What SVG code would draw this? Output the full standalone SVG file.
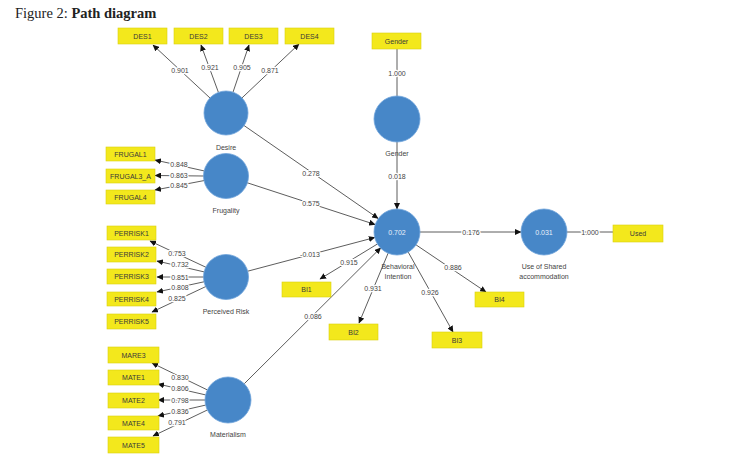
<svg xmlns="http://www.w3.org/2000/svg" width="736" height="458" viewBox="0 0 736 458">
<defs>
<marker id="ah" markerUnits="userSpaceOnUse" markerWidth="7" markerHeight="6" refX="6" refY="3" orient="auto">
<path d="M0,0 L6.5,3 L0,6 Z" fill="#111"/>
</marker>
<style>
.box{fill:#F3E81C;stroke:#D9CF10;stroke-width:0.6}
.bt{font-family:"Liberation Sans",Arial,sans-serif;font-size:7px;fill:#3a3a3a;text-anchor:middle}
.lv{fill:#4787C8;stroke:#6FA3DA;stroke-width:0.8}
.lt{font-family:"Liberation Sans",Arial,sans-serif;font-size:7px;fill:#444;text-anchor:middle}
.in{font-family:"Liberation Sans",Arial,sans-serif;font-size:7px;fill:#E8F0FA;text-anchor:middle}
.c{stroke:#333;stroke-width:0.8;fill:none}
.a{stroke:#333;stroke-width:0.8;fill:none;marker-end:url(#ah)}
.lbl{font-family:"Liberation Sans",Arial,sans-serif;font-size:7px;fill:#444;text-anchor:middle;stroke:#fff;stroke-width:2.5;paint-order:stroke;stroke-linejoin:round}
.title{font-family:"Liberation Serif","Times New Roman",serif;font-size:14.5px;fill:#222}
</style>
</defs>
<rect width="736" height="458" fill="#fff"/>
<text class="title" x="15" y="18">Figure 2: <tspan font-weight="bold">Path diagram</tspan></text>

<g id="connectors">
<line class="a" x1="210" y1="98" x2="153" y2="45"/>
<line class="a" x1="218.4" y1="92.3" x2="201" y2="45"/>
<line class="a" x1="233" y1="92.2" x2="249" y2="45"/>
<line class="a" x1="242" y1="97.9" x2="299" y2="44"/>
<line class="a" x1="204.5" y1="171" x2="155" y2="160"/>
<line class="a" x1="204" y1="176" x2="155" y2="175.5"/>
<line class="a" x1="204.4" y1="180.5" x2="155" y2="190"/>
<line class="a" x1="206.2" y1="267.4" x2="150" y2="241"/>
<line class="a" x1="204.6" y1="272" x2="157" y2="261"/>
<line class="a" x1="204" y1="277" x2="157" y2="277"/>
<line class="a" x1="204.5" y1="281.7" x2="157" y2="292"/>
<line class="a" x1="206.1" y1="286.4" x2="152" y2="312"/>
<line class="a" x1="207.3" y1="389.9" x2="152" y2="363"/>
<line class="a" x1="205.6" y1="394.9" x2="158" y2="384"/>
<line class="a" x1="205" y1="400" x2="158" y2="400"/>
<line class="a" x1="205.6" y1="405.1" x2="158" y2="416"/>
<line class="a" x1="207.3" y1="410" x2="153" y2="436"/>
<line class="a" x1="244" y1="125.5" x2="378.1" y2="218.4"/>
<line class="a" x1="247" y1="182.7" x2="375.1" y2="224.5"/>
<line class="a" x1="247.3" y1="271.3" x2="374.8" y2="237.5"/>
<line class="a" x1="244.3" y1="383.7" x2="380.7" y2="247.8"/>
<line class="a" x1="397" y1="142" x2="397" y2="209"/>
<line class="a" x1="420" y1="232" x2="521" y2="232"/>
<line class="c" x1="397" y1="49" x2="397" y2="96"/>
<line class="c" x1="567" y1="232" x2="613" y2="232"/>
<line class="a" x1="377.4" y1="244" x2="320" y2="279"/>
<line class="a" x1="388.1" y1="253.2" x2="359" y2="323"/>
<line class="a" x1="408.2" y1="252.1" x2="453" y2="332"/>
<line class="a" x1="416.1" y1="244.9" x2="486" y2="292"/>
<text class="lbl" x="180" y="73">0.901</text>
<text class="lbl" x="210" y="70">0.921</text>
<text class="lbl" x="242" y="70">0.905</text>
<text class="lbl" x="270" y="73">0.871</text>
<text class="lbl" x="179" y="167">0.848</text>
<text class="lbl" x="179" y="177.5">0.863</text>
<text class="lbl" x="179" y="188">0.845</text>
<text class="lbl" x="177" y="256">0.753</text>
<text class="lbl" x="180" y="267">0.732</text>
<text class="lbl" x="180" y="279.5">0.851</text>
<text class="lbl" x="180" y="290">0.808</text>
<text class="lbl" x="177" y="301">0.825</text>
<text class="lbl" x="180" y="379.5">0.830</text>
<text class="lbl" x="180" y="391">0.806</text>
<text class="lbl" x="180" y="402.5">0.798</text>
<text class="lbl" x="180" y="413.5">0.836</text>
<text class="lbl" x="177" y="424.5">0.791</text>
<text class="lbl" x="311" y="175.5">0.278</text>
<text class="lbl" x="311" y="205.5">0.575</text>
<text class="lbl" x="310" y="256.5">-0.013</text>
<text class="lbl" x="313" y="318.5">0.086</text>
<text class="lbl" x="397" y="178.5">0.018</text>
<text class="lbl" x="397" y="75.5">1.000</text>
<text class="lbl" x="471" y="235">0.176</text>
<text class="lbl" x="590" y="235">1.000</text>
<text class="lbl" x="349" y="264.5">0.915</text>
<text class="lbl" x="373" y="290.5">0.931</text>
<text class="lbl" x="430" y="294.5">0.926</text>
<text class="lbl" x="453" y="269.5">0.886</text>
</g>

<g id="DES1"><rect class="box" x="118" y="28" width="49" height="16"/><text class="bt" x="142.5" y="38.5">DES1</text></g>
<g id="DES2"><rect class="box" x="174" y="28" width="49" height="16"/><text class="bt" x="198.5" y="38.5">DES2</text></g>
<g id="DES3"><rect class="box" x="229" y="28" width="49" height="16"/><text class="bt" x="253.5" y="38.5">DES3</text></g>
<g id="DES4"><rect class="box" x="285" y="28" width="49" height="16"/><text class="bt" x="309.5" y="38.5">DES4</text></g>

<g id="FRUGAL1"><rect class="box" x="106" y="147" width="49" height="14"/><text class="bt" x="130.5" y="156.5">FRUGAL1</text></g>
<g id="FRUGAL3_A"><rect class="box" x="106" y="169" width="49" height="14"/><text class="bt" x="130.5" y="178.5">FRUGAL3_A</text></g>
<g id="FRUGAL4"><rect class="box" x="106" y="190" width="49" height="14"/><text class="bt" x="130.5" y="199.5">FRUGAL4</text></g>

<g id="PERRISK1"><rect class="box" x="107" y="226" width="49" height="14"/><text class="bt" x="131.5" y="235.5">PERRISK1</text></g>
<g id="PERRISK2"><rect class="box" x="107" y="247" width="49" height="15"/><text class="bt" x="131.5" y="257">PERRISK2</text></g>
<g id="PERRISK3"><rect class="box" x="107" y="269" width="49" height="15"/><text class="bt" x="131.5" y="279">PERRISK3</text></g>
<g id="PERRISK4"><rect class="box" x="107" y="292" width="49" height="14"/><text class="bt" x="131.5" y="301.5">PERRISK4</text></g>
<g id="PERRISK5"><rect class="box" x="107" y="314" width="49" height="15"/><text class="bt" x="131.5" y="324">PERRISK5</text></g>

<g id="MARE3"><rect class="box" x="108" y="347" width="51" height="16"/><text class="bt" x="133.5" y="357.5">MARE3</text></g>
<g id="MATE1"><rect class="box" x="108" y="370" width="51" height="15"/><text class="bt" x="133.5" y="380">MATE1</text></g>
<g id="MATE2"><rect class="box" x="108" y="393" width="51" height="15"/><text class="bt" x="133.5" y="403">MATE2</text></g>
<g id="MATE4"><rect class="box" x="108" y="416" width="51" height="14"/><text class="bt" x="133.5" y="425.5">MATE4</text></g>
<g id="MATE5"><rect class="box" x="108" y="437" width="51" height="16"/><text class="bt" x="133.5" y="447.5">MATE5</text></g>

<g id="GenderItem"><rect class="box" x="372" y="33" width="49" height="16"/><text class="bt" x="396.5" y="43.5">Gender</text></g>
<g id="BI1"><rect class="box" x="282" y="282" width="49" height="15"/><text class="bt" x="306.5" y="292">BI1</text></g>
<g id="BI2"><rect class="box" x="329" y="324" width="49" height="16"/><text class="bt" x="353.5" y="334.5">BI2</text></g>
<g id="BI3"><rect class="box" x="432" y="332" width="50" height="16"/><text class="bt" x="457" y="342.5">BI3</text></g>
<g id="BI4"><rect class="box" x="475" y="292" width="49" height="15"/><text class="bt" x="499.5" y="302">BI4</text></g>
<g id="Used"><rect class="box" x="613" y="225" width="50" height="17"/><text class="bt" x="638" y="236">Used</text></g>

<g id="Desire"><circle class="lv" cx="226" cy="113" r="22"/><text class="lt" x="226" y="149.5">Desire</text></g>
<g id="Frugality"><circle class="lv" cx="226" cy="176" r="22.5"/><text class="lt" x="226" y="212.5">Frugality</text></g>
<g id="PerceivedRisk"><circle class="lv" cx="226" cy="277" r="22.5"/><text class="lt" x="226" y="313.5">Perceived Risk</text></g>
<g id="Materialism"><circle class="lv" cx="228" cy="400" r="23"/><text class="lt" x="228" y="436.5">Materialism</text></g>
<g id="Gender"><circle class="lv" cx="397" cy="119" r="23"/><text class="lt" x="397" y="156">Gender</text></g>
<g id="BehavioralIntention"><circle class="lv" cx="397" cy="232" r="23"/><text class="in" x="397" y="234.5">0.702</text><text class="lt" x="398" y="269">Behavioral</text><text class="lt" x="398" y="279">Intention</text></g>
<g id="UseOfSharedAccommodation"><circle class="lv" cx="544" cy="232" r="23"/><text class="in" x="544" y="234.5">0.031</text><text class="lt" x="544" y="269">Use of Shared</text><text class="lt" x="544" y="279">accommodation</text></g>
</svg>
